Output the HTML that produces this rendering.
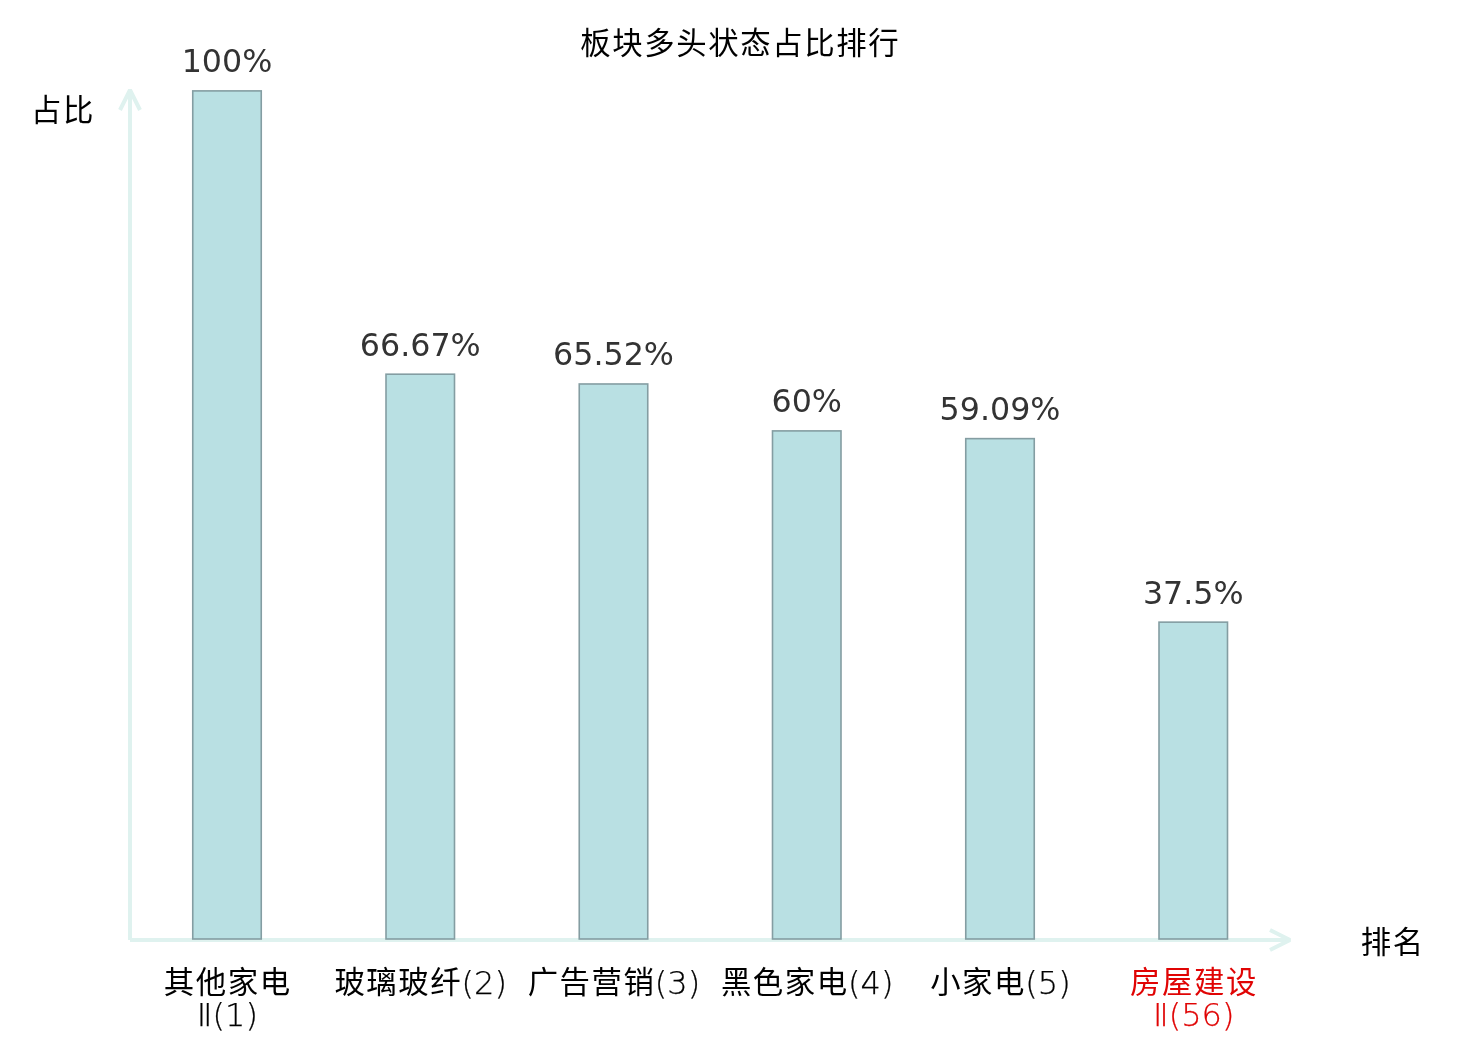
<!DOCTYPE html>
<html lang="zh-CN">
<head>
<meta charset="utf-8">
<title>板块多头状态占比排行</title>
<style>
html,body{margin:0;padding:0;background:#fff;}
body{width:1480px;height:1040px;overflow:hidden;position:relative;}
svg{position:absolute;left:0;top:0;display:block;}
text{font-size:32px;font-weight:400;}
.cjk{font-family:"Noto Sans CJK SC","DejaVu Sans",sans-serif;font-size:30.4px;letter-spacing:1.6px;fill:#000;}
.lat{font-family:"DejaVu Sans Light","DejaVu Sans","Noto Sans CJK SC",sans-serif;font-size:32px;font-weight:200;letter-spacing:0;fill:#000;stroke:#000;stroke-width:0.25px;}
.val text{font-family:"DejaVu Sans","Liberation Sans",sans-serif;font-size:31.7px;fill:#333;}
.red{fill:#e00404;}
.lat.red{stroke:#e00404;}
</style>
</head>
<body>
<svg width="1480" height="1040" viewBox="0 0 1480 1040">
  <rect x="0" y="0" width="1480" height="1040" fill="#ffffff"/>
  <!-- axes with open arrow heads -->
  <g fill="none" stroke="#dff2ef" stroke-width="4" stroke-linejoin="bevel" stroke-linecap="butt">
    <path d="M130 940 L130 90"/>
    <path d="M120 110 L130 90 L140 110"/>
    <path d="M130 940 L1290 940"/>
    <path d="M1270 930 L1290 940 L1270 950"/>
  </g>
  <!-- bars -->
  <g fill="#b9e0e3" stroke="#849da2" stroke-width="1.6">
    <rect x="192.75" y="90.9" width="68.5" height="848.1"/>
    <rect x="386.0" y="374.2" width="68.5" height="564.8"/>
    <rect x="579.25" y="383.98" width="68.5" height="555.02"/>
    <rect x="772.5" y="430.9" width="68.5" height="508.1"/>
    <rect x="965.75" y="438.63" width="68.5" height="500.37"/>
    <rect x="1159.0" y="622.15" width="68.5" height="316.85"/>
  </g>
  <!-- value labels -->
  <g class="val" text-anchor="middle">
    <text x="227.0" y="71.6">100%</text>
    <text x="420.25" y="355.5">66.67%</text>
    <text x="613.5" y="364.8">65.52%</text>
    <text x="806.75" y="411.6">60%</text>
    <text x="1000.0" y="419.6">59.09%</text>
    <text x="1193.25" y="603.6">37.5%</text>
  </g>
  <!-- title and axis names -->
  <text class="cjk" text-anchor="middle" x="740.3" y="53.7">板块多头状态占比排行</text>
  <text class="cjk" text-anchor="middle" x="63.1" y="121.3">占比</text>
  <text class="cjk" text-anchor="middle" x="1392.8" y="953.3">排名</text>
  <!-- category labels -->
  <text class="cjk" text-anchor="middle" x="227.8" y="992.6">其他家电<tspan class="lat" x="227.4" y="1025.75">Ⅱ(1)</tspan></text>
  <text class="cjk" x="334.39" y="992.6">玻璃玻纤<tspan class="lat" x="461.59" y="993.5">(2)</tspan></text>
  <text class="cjk" x="527.63" y="992.6">广告营销<tspan class="lat" x="654.84" y="993.5">(3)</tspan></text>
  <text class="cjk" x="720.88" y="992.6">黑色家电<tspan class="lat" x="848.09" y="993.5">(4)</tspan></text>
  <text class="cjk" x="930.13" y="992.6">小家电<tspan class="lat" x="1025.34" y="993.5">(5)</tspan></text>
  <text class="cjk red" text-anchor="middle" x="1194.05" y="992.6">房屋建设<tspan class="lat red" x="1193.65" y="1025.75">Ⅱ(56)</tspan></text>
</svg>
</body>
</html>
